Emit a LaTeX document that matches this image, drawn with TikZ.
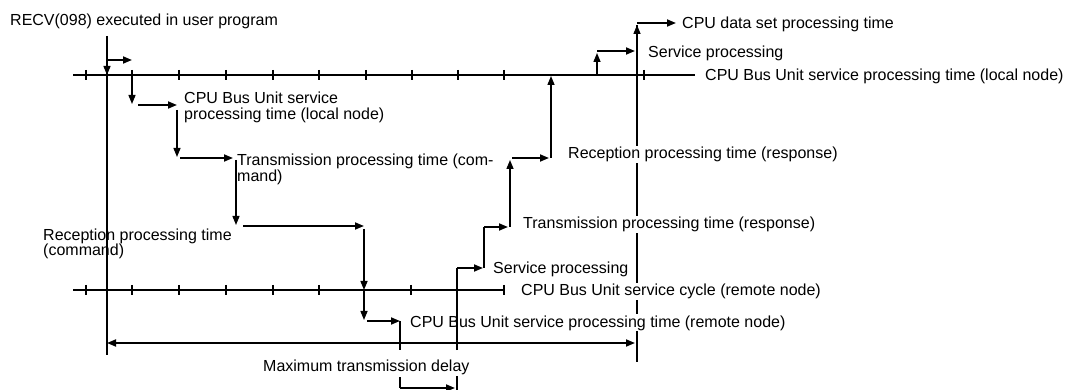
\documentclass[tikz,border=0pt]{standalone}
\usepackage{fontspec}
\setmainfont{Liberation Sans}
\usetikzlibrary{arrows.meta}
\begin{document}
\begin{tikzpicture}[x=1pt,y=-1pt,
  axis/.style={line width=1.8pt},
  tickmark/.style={line width=1.4pt},
  conn/.style={line width=1.5pt},
  steparrow/.style={line width=1.7pt,-{Triangle[length=9pt,width=7pt]}},
  vconn/.style={line width=1.4pt,-{Triangle[length=9pt,width=7pt]}},
  bothends/.style={line width=1.7pt,{Triangle[length=9pt,width=7pt]}-{Triangle[length=9pt,width=7pt]}},
  guide/.style={line width=1.2pt},
  lbl/.style={anchor=base west,inner sep=0pt,font=\fontsize{16}{17}\selectfont},
  masklbl/.style={lbl,fill=white,inner sep=1pt}
]
\useasboundingbox (0,0) rectangle (1077,390);

% ---------- coordinates ----------
\coordinate (axT0) at (73,75);   \coordinate (axT1) at (695,75);
\coordinate (axB0) at (73,290);  \coordinate (axB1) at (505,290);
\coordinate (m1) at (107,36);    \coordinate (m2) at (107,355);
\coordinate (r1) at (637,25);    \coordinate (r2) at (637,362);

% ---------- right guide line (masked by labels) ----------
\draw[guide] (r1) -- (r2);

% ---------- labels ----------
\node[lbl] (recv) at (10,26) {RECV(098) executed in user program};
\node[lbl] (cpuset) at (682,29) {CPU data set processing time};
\node[lbl] (svtop) at (648,58) {Service processing};
\node[lbl] (axTlbl) at (705,81) {CPU Bus Unit service processing time (local node)};
\node[lbl] (loc1) at (184,104) {CPU Bus Unit service};
\node[lbl] (loc2) at (184,120) {processing time (local node)};
\node[lbl] (tc1) at (237,166) {Transmission processing time (com-};
\node[lbl] (tc2) at (237,182) {mand)};
\node[masklbl] (rresp) at (567,159) {Reception processing time (response)};
\node[masklbl] (tresp) at (522,229) {Transmission processing time (response)};
\node[lbl] (rc1) at (43,241) {Reception processing time};
\node[lbl] (rc2) at (43,256) {(command)};
\node[lbl] (svbot) at (493,274) {Service processing};
\node[masklbl] (axBlbl) at (520,296) {CPU Bus Unit service cycle (remote node)};
\node[masklbl] (remlbl) at (409,327) {CPU Bus Unit service processing time (remote node)};
\node[lbl] (maxlbl) at (263,371) {Maximum transmission delay};

% ---------- axes ----------
\draw[axis] (axT0) -- (axT1);
\draw[axis] (axB0) -- (axB1);
\foreach \x in {86,132,179,226,273,319,366,412,458,504,644}
  \draw[tickmark] (\x,70) -- (\x,80);
\foreach \x in {86,132,179,226,273,319,411,457,504}
  \draw[tickmark] (\x,285) -- (\x,295);

% ---------- main left line ----------
\draw[guide] (m1) -- (m2);

% ---------- staircase ----------
\coordinate (a0) at (107,60);  \coordinate (a1) at (132,60);  \coordinate (a2) at (107,75);
\draw[steparrow] (a0) -- (a1);
\draw[vconn] (a0) -- (a2);

\coordinate (b0) at (132,79);  \coordinate (b1) at (132,104);
\coordinate (b2) at (138,105); \coordinate (b3) at (177,105);
\draw[vconn] (b0) -- (b1);
\draw[steparrow] (b2) -- (b3);

\coordinate (c0) at (177,110); \coordinate (c1) at (177,157);
\coordinate (c2) at (180,158); \coordinate (c3) at (233,158);
\draw[vconn] (c0) -- (c1);
\draw[steparrow] (c2) -- (c3);

\coordinate (d0) at (236,160); \coordinate (d1) at (236,225);
\coordinate (d2) at (243,226); \coordinate (d3) at (364,226);
\draw[vconn] (d0) -- (d1);
\draw[steparrow] (d2) -- (d3);

\coordinate (e0) at (364,229); \coordinate (e1) at (364,290);
\coordinate (e2) at (364,320); \coordinate (e3) at (367,321); \coordinate (e4) at (400,321);
\draw[vconn] (e0) -- (e1);
\draw[vconn] (e1) -- (e2);
\draw[steparrow] (e3) -- (e4);

\coordinate (f0) at (400,321); \coordinate (f1) at (400,350);
\draw[conn] (f0) -- (f1);

\coordinate (g0) at (457,350); \coordinate (g1) at (457,268); \coordinate (g2) at (483,268);
\draw[conn] (g0) -- (g1);
\draw[steparrow] (g1) -- (g2);

\coordinate (h0) at (484,268); \coordinate (h1) at (484,227); \coordinate (h2) at (508,227);
\draw[conn] (h0) -- (h1);
\draw[steparrow] (h1) -- (h2);

\coordinate (i0) at (510,227); \coordinate (i1) at (510,160);
\coordinate (i2) at (512,158); \coordinate (i3) at (549,158);
\draw[vconn] (i0) -- (i1);
\draw[steparrow] (i2) -- (i3);

\coordinate (j0) at (551,158); \coordinate (j1) at (551,76);
\draw[vconn] (j0) -- (j1);

\coordinate (k0) at (597,75); \coordinate (k1) at (597,53);
\coordinate (k2) at (597,51); \coordinate (k3) at (635,51);
\draw[vconn] (k0) -- (k1);
\draw[steparrow] (k2) -- (k3);

\coordinate (l0) at (637,51); \coordinate (l1) at (637,25);
\coordinate (l2) at (637,23); \coordinate (l3) at (676,23);
\draw[vconn] (l0) -- (l1);
\draw[steparrow] (l2) -- (l3);

% ---------- maximum transmission delay ----------
\coordinate (x0) at (107,343); \coordinate (x1) at (635,343);
\draw[bothends] (x0) -- (x1);

% ---------- bottom bracket ----------
\coordinate (p0) at (400,377); \coordinate (p1) at (400,388);
\coordinate (p2) at (455,388); \coordinate (q0) at (457,376); \coordinate (q1) at (457,390);
\draw[conn] (p0) -- (p1);
\draw[steparrow] (p1) -- (p2);
\draw[conn] (q0) -- (q1);
\end{tikzpicture}
\end{document}
